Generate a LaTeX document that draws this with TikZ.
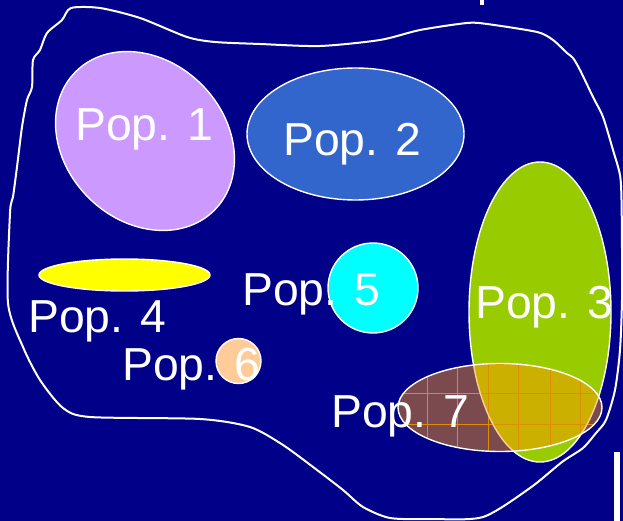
\documentclass[tikz,border=0pt]{standalone}
\usepackage{fontspec}
\setmainfont{Liberation Sans}
\definecolor{bgblue}{RGB}{0,0,136}
\definecolor{popone}{RGB}{204,153,255}
\definecolor{poptwo}{RGB}{51,102,204}
\definecolor{popthree}{RGB}{153,204,0}
\definecolor{popfour}{RGB}{255,255,0}
\definecolor{popfive}{RGB}{0,255,255}
\definecolor{popsix}{RGB}{255,204,153}
\definecolor{popseven}{RGB}{122,74,78}
\definecolor{popmix}{RGB}{204,176,0}
\definecolor{gridorange}{RGB}{225,140,0}
\definecolor{peachedge}{RGB}{255,205,150}
\tikzset{
  popshape/.style={draw=white, line width=1.4pt},
  poplabel/.style={text=white, inner sep=0pt, anchor=base west, font=\fontsize{46.3}{50}\selectfont},
}
\begin{document}
\begin{tikzpicture}[x=1pt, y=-1pt]
\fill[bgblue] (0,0) rectangle (623,521);
\useasboundingbox (0,0) rectangle (623,521);
% outline
\draw[white, line width=2pt, line join=round] plot[smooth cycle, tension=0.45] coordinates {
(71,8) (100,8) (140,18) (187,37) (215,42) (260,44) (320,46) (380,40) (420,30)
(467,23) (487,24) (537,32) (553,40) (567,53) (573,58) (580,70) (593,97) (603,117)
(613,150) (620,175) (621.5,200) (622,250) (622,300) (620,350) (615,390) (606,420)
(596,433) (583,448) (562,462) (530,488) (483,517) (430,519) (390,518) (363,507) (343,490)
(317,470) (283,445) (250,427) (200,419) (90,417) (63,408) (40,380) (23,347) (8,303)
(10,213) (13,197) (17,167) (22,127) (27,100) (32,87) (33,60) (40,50) (47,33) (62,20)};
% marks
\fill[white] (480,0) rectangle (484,5);
\fill[white] (614,452) rectangle (620,521);
% Pop 1
\draw[popshape, fill=popone, shift={(145,141)}, rotate=-45] (0,0) ellipse[x radius=98pt, y radius=80pt];
% Pop 2
\draw[popshape, fill=poptwo] (355.5,134) ellipse[x radius=108.5pt, y radius=66pt];
% Pop 3
\draw[popshape, fill=popthree] (540,312) ellipse[x radius=71pt, y radius=150pt];
% Pop 4
\draw[popshape, fill=popfour] (124.5,275) ellipse[x radius=85.5pt, y radius=16pt];
% Pop 5
\draw[popshape, fill=popfive] (373,288) circle[radius=45pt];
% Pop 6
\draw[popshape, fill=popsix] (238.5,361) circle[radius=22.5pt];
% Pop 7
\fill[popseven] (500,407.5) ellipse[x radius=102pt, y radius=44pt];
\begin{scope}
  \clip (500,407.5) ellipse[x radius=102pt, y radius=44pt];
  \fill[popmix] (540,312) ellipse[x radius=71pt, y radius=150pt];
  \foreach \gx in {427,457,488,518,550,580} \draw[gridorange, line width=0.8pt] (\gx,350) -- (\gx,460);
  \foreach \gy in {364,393,424} \draw[gridorange, line width=0.8pt] (390,\gy) -- (610,\gy);
  \draw[peachedge, line width=1.4pt] (540,312) ellipse[x radius=71pt, y radius=150pt];
\end{scope}
\draw[popshape] (500,407.5) ellipse[x radius=102pt, y radius=44pt];
% labels
\node[poplabel] (l1) at (75,141) {Pop. 1};
\node[poplabel] (l2) at (283,156) {Pop. 2};
\node[poplabel] (l3) at (475,318) {Pop. 3};
\node[poplabel] (l4) at (28,332) {Pop. 4};
\node[poplabel] (l5) at (242,305) {Pop. 5};
\node[poplabel] (l6) at (122,380) {Pop. 6};
\node[poplabel] (l7) at (331,427) {Pop. 7};
\end{tikzpicture}
\end{document}
